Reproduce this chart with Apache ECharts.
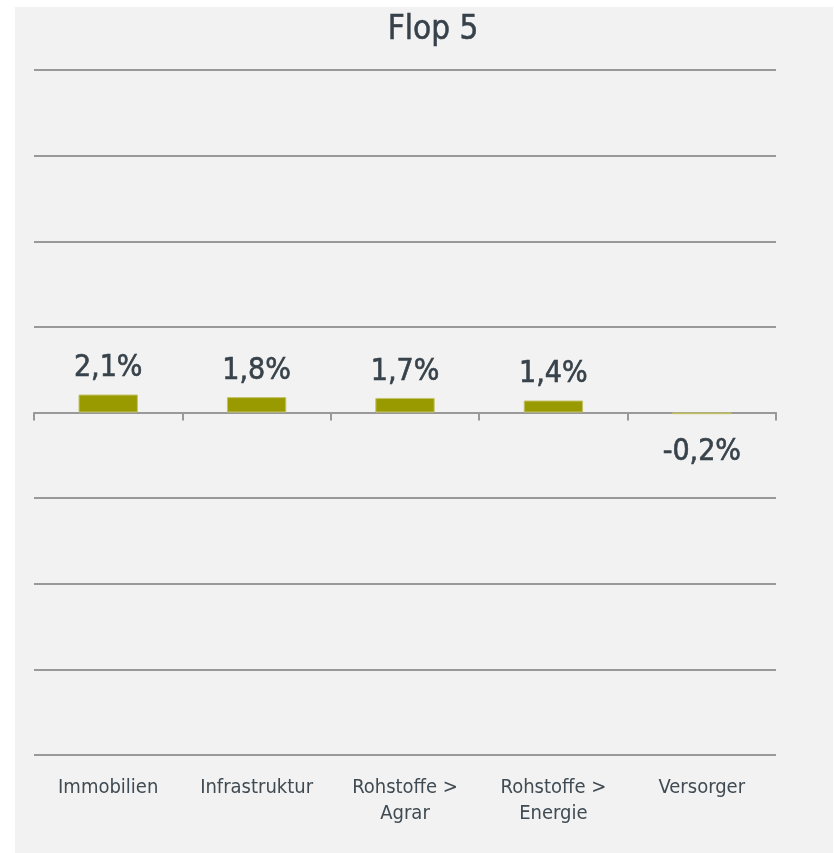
<!DOCTYPE html>
<html>
<head>
<meta charset="utf-8">
<script src="https://cdn.jsdelivr.net/npm/echarts@6/dist/echarts.min.js"></script>
<style>
  html, body { margin: 0; padding: 0; background: #ffffff; }
  #chart { position: absolute; left: 15px; top: 7px; width: 818px; height: 846px; background: #f2f2f2; }
</style>
</head>
<body>
<div id="chart"></div>
<script>
  // Flop 5 - Wertentwicklung in %
  const categories = ['Immobilien', 'Infrastruktur', 'Rohstoffe >\nAgrar', 'Rohstoffe >\nEnergie', 'Versorger'];
  const values = [2.1, 1.8, 1.7, 1.4, -0.2];

  const font = "'DejaVu Sans Condensed', 'Liberation Sans Narrow', sans-serif";
  const fmt = v => v.toFixed(1).replace('.', ',') + '%';

  const myChart = echarts.init(document.getElementById('chart'));

  const options = {
    backgroundColor: '#f2f2f2',
    animation: false,
    title: {
      text: 'Flop 5',
      left: 413,
      top: 2,
      textAlign: 'center',
      textStyle: { fontFamily: font, fontSize: 33, fontWeight: 'normal', color: '#36414a', textBorderColor: '#36414a', textBorderWidth: 0.5 }
    },
    grid: { left: 19, right: 57, top: 63, bottom: 98 },
    xAxis: [{
      type: 'category',
      data: categories,
      position: 'bottom',
      axisLine: { show: false, onZero: false },
      axisTick: { show: false },
      axisLabel: { fontFamily: font, fontSize: 20, color: '#3f4a52', lineHeight: 26, margin: 20 }
    }, {
      type: 'category',
      data: categories,
      position: 'top',
      axisLine: { show: true, onZero: true, lineStyle: { color: '#999999', width: 2 } },
      axisTick: { show: true, inside: true, length: 8, lineStyle: { color: '#999999', width: 2 } },
      axisLabel: { show: false }
    }],
    yAxis: {
      type: 'value',
      min: -40,
      max: 40,
      interval: 10,
      axisLine: { show: false },
      axisTick: { show: false },
      axisLabel: { show: false },
      splitLine: { lineStyle: { color: '#999999', width: 2 } }
    },
    series: [{
      type: 'bar',
      xAxisIndex: 0,
      barWidth: '40%',
      itemStyle: { color: '#999900', borderColor: '#c4c46a', borderWidth: 1 },
      label: {
        show: true,
        fontFamily: font,
        fontSize: 30,
        color: '#37424a',
        textBorderColor: '#37424a',
        textBorderWidth: 0.6,
        formatter: p => fmt(p.value)
      },
      data: values.map(v => ({
        value: v,
        label: v < 0 ? { position: 'bottom', distance: 23 } : { position: 'top', distance: 11 }
      }))
    }]
  };
  myChart.setOption(options);
</script>
</body>
</html>
